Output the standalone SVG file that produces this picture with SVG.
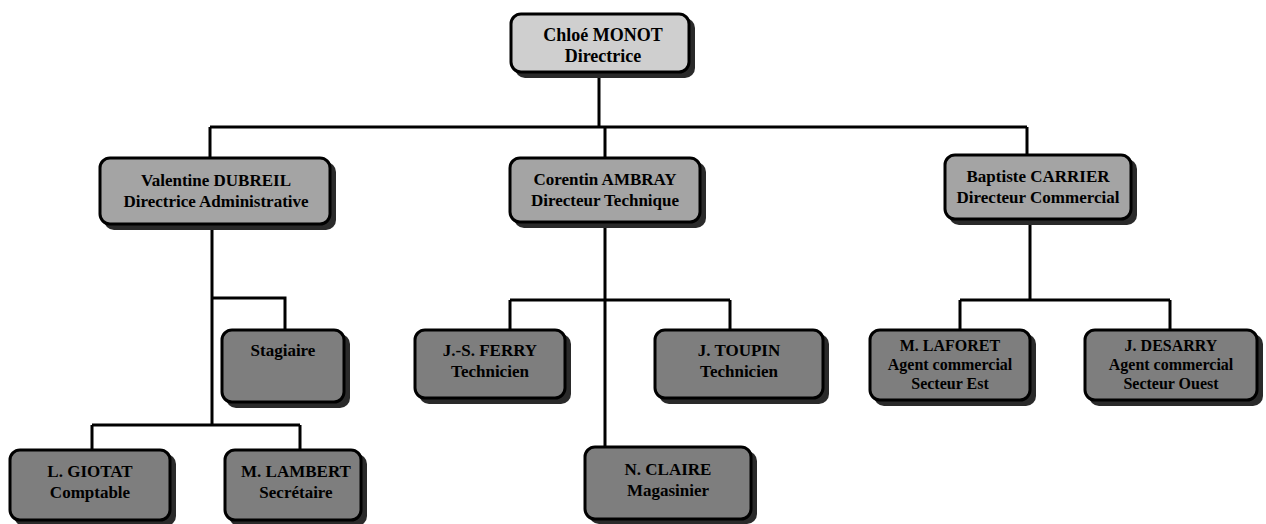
<svg xmlns="http://www.w3.org/2000/svg" width="1266" height="524" viewBox="0 0 1266 524">
<style>
.box{stroke:#000;stroke-width:3}
.l1{fill:#cfcfcf}
.l2{fill:#a4a4a4}
.l3{fill:#7e7e7e}
.sh{fill:#2a2a2a}
.t{font-family:"Liberation Serif","Times New Roman",serif;font-size:17px;font-weight:bold;fill:#000;text-anchor:middle}
.big{font-size:18px}
.sm{font-size:16px}
.c{fill:none;stroke:#000;stroke-width:3}
</style>
<rect width="1266" height="524" fill="#fff"/>
<g id="connectors">
<path class="c" d="M599,74 V127 M210,127 H1027 M210,127 V160 M605,127 V158 M1027,127 V157"/>
<path class="c" d="M212,225 V425 M212,298 H285 V332 M92,425 H300 M92,425 V452 M300,425 V452"/>
<path class="c" d="M605,222 V449 M510,300 H730 M510,300 V332 M730,300 V332"/>
<path class="c" d="M1030,220 V300 M960,300 H1170 M960,300 V332 M1170,300 V332"/>
</g>
<g id="n-monot">
<rect class="sh" x="515" y="18" width="180" height="60" rx="10"/>
<rect class="box l1" x="511" y="14" width="178" height="58" rx="10"/>
<text class="t big" x="603" y="41">Chloé MONOT</text>
<text class="t big" x="603" y="62">Directrice</text>
</g>
<g id="n-dubreil">
<rect class="sh" x="104" y="162" width="232" height="68" rx="10"/>
<rect class="box l2" x="100" y="158" width="230" height="66" rx="10"/>
<text class="t" x="216" y="186">Valentine DUBREIL</text>
<text class="t" x="216" y="207">Directrice Administrative</text>
</g>
<g id="n-ambray">
<rect class="sh" x="514" y="162" width="192" height="66" rx="10"/>
<rect class="box l2" x="510" y="158" width="190" height="64" rx="10"/>
<text class="t" x="605" y="185">Corentin AMBRAY</text>
<text class="t" x="605" y="206">Directeur Technique</text>
</g>
<g id="n-carrier">
<rect class="sh" x="949" y="159" width="188" height="66" rx="10"/>
<rect class="box l2" x="945" y="155" width="186" height="64" rx="10"/>
<text class="t" x="1038" y="182">Baptiste CARRIER</text>
<text class="t" x="1038" y="203">Directeur Commercial</text>
</g>
<g id="n-stagiaire">
<rect class="sh" x="226" y="334" width="124" height="74" rx="10"/>
<rect class="box l3" x="222" y="330" width="122" height="72" rx="10"/>
<text class="t" x="283" y="356">Stagiaire</text>
</g>
<g id="n-ferry">
<rect class="sh" x="419" y="334" width="152" height="70" rx="10"/>
<rect class="box l3" x="415" y="330" width="150" height="68" rx="10"/>
<text class="t" x="490" y="356">J.-S. FERRY</text>
<text class="t" x="490" y="377">Technicien</text>
</g>
<g id="n-toupin">
<rect class="sh" x="659" y="334" width="170" height="70" rx="10"/>
<rect class="box l3" x="655" y="330" width="168" height="68" rx="10"/>
<text class="t" x="739" y="356">J. TOUPIN</text>
<text class="t" x="739" y="377">Technicien</text>
</g>
<g id="n-lafore">
<rect class="sh" x="874" y="334" width="162" height="72" rx="10"/>
<rect class="box l3" x="870" y="330" width="160" height="70" rx="10"/>
<text class="t sm" x="950" y="351">M. LAFORET</text>
<text class="t sm" x="950" y="370">Agent commercial</text>
<text class="t sm" x="950" y="389">Secteur Est</text>
</g>
<g id="n-desarry">
<rect class="sh" x="1089" y="334" width="174" height="72" rx="10"/>
<rect class="box l3" x="1085" y="330" width="172" height="70" rx="10"/>
<text class="t sm" x="1171" y="351">J. DESARRY</text>
<text class="t sm" x="1171" y="370">Agent commercial</text>
<text class="t sm" x="1171" y="389">Secteur Ouest</text>
</g>
<g id="n-giotat">
<rect class="sh" x="14" y="454" width="162" height="72" rx="10"/>
<rect class="box l3" x="10" y="450" width="160" height="70" rx="10"/>
<text class="t" x="90" y="477">L. GIOTAT</text>
<text class="t" x="90" y="498">Comptable</text>
</g>
<g id="n-lambert">
<rect class="sh" x="229" y="454" width="138" height="72" rx="10"/>
<rect class="box l3" x="225" y="450" width="136" height="70" rx="10"/>
<text class="t" x="296" y="477">M. LAMBERT</text>
<text class="t" x="296" y="498">Secrétaire</text>
</g>
<g id="n-claire">
<rect class="sh" x="589" y="451" width="168" height="73" rx="10"/>
<rect class="box l3" x="585" y="447" width="166" height="72" rx="10"/>
<text class="t" x="668" y="475">N. CLAIRE</text>
<text class="t" x="668" y="496">Magasinier</text>
</g>
</svg>
